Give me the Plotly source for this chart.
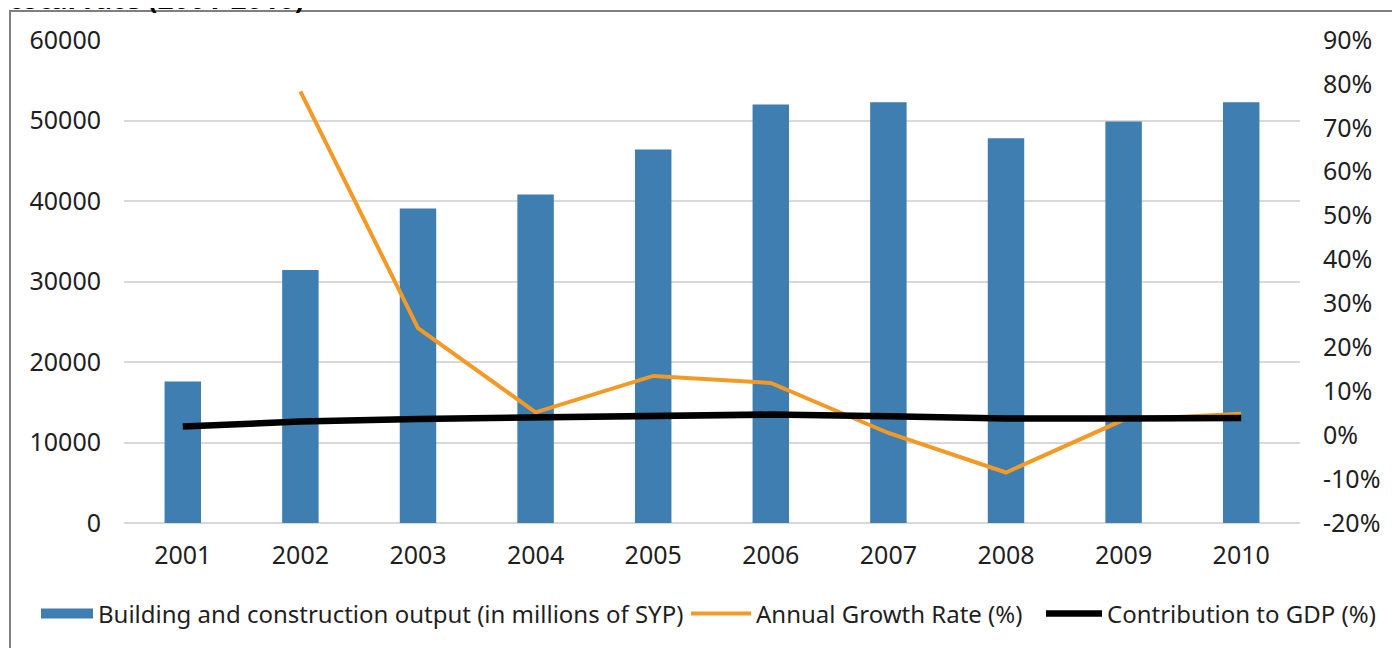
import plotly.graph_objects as go

years = ["2001", "2002", "2003", "2004", "2005", "2006", "2007", "2008", "2009", "2010"]
output_syp = [17570, 31430, 39080, 40820, 46400, 51980, 52270, 47800, 49880, 52270]
growth_years = ["2002", "2003", "2004", "2005", "2006", "2007", "2008", "2009", "2010"]
growth_rate = [0.783, 0.244, 0.052, 0.135, 0.119, 0.005, -0.085, 0.035, 0.049]
gdp_contrib = [0.020, 0.031, 0.037, 0.041, 0.044, 0.047, 0.043, 0.038, 0.038, 0.039]

left_ticks = [0, 10000, 20000, 30000, 40000, 50000, 60000]
right_ticks = [-0.2, -0.1, 0, 0.1, 0.2, 0.3, 0.4, 0.5, 0.6, 0.7, 0.8, 0.9]
right_labels = ["-20%", "-10%", "0%", "10%", "20%", "30%", "40%", "50%", "60%", "70%", "80%", "90%"]

FONT = "Noto Sans"
TXT = "#1F1F1F"
BLUE = "#3F7EB0"
ORANGE = "#F39A26"

fig = go.Figure()
fig.add_trace(go.Bar(
    x=years, y=output_syp, name="Building and construction output (in millions of SYP)",
    marker=dict(color=BLUE, line=dict(width=0)), showlegend=False, legendgroup="bar",
))
# legend-only entry so the bar key is drawn as a wide block like the original
fig.add_trace(go.Scatter(
    x=[None], y=[None], name="Building and construction output (in millions of SYP)",
    mode="lines", line=dict(color=BLUE, width=16), legendgroup="bar", hoverinfo="skip",
    legend="legend",
))
fig.add_trace(go.Scatter(
    x=growth_years, y=growth_rate, name="Annual Growth Rate (%)", yaxis="y2",
    mode="lines", line=dict(color=ORANGE, width=4), legend="legend2",
))
fig.add_trace(go.Scatter(
    x=years, y=gdp_contrib, name="Contribution to GDP (%)", yaxis="y2",
    mode="lines", line=dict(color="#000000", width=6.5), legend="legend3",
))


def leg(xpix, itemwidth):
    # xpix: left edge in page pixels (page is offset 8px by the body margin)
    return dict(orientation="h", xref="container", yref="container",
                x=(xpix - 8) / 1400, xanchor="left", y=1 - 606 / 648, yanchor="middle",
                font=dict(family=FONT, size=24, color=TXT), itemwidth=itemwidth,
                bgcolor="rgba(0,0,0,0)", borderwidth=0)


# page body adds an 8px offset; plot area in the page: x 124-1300, y 40-523
fig.update_layout(
    width=1400, height=648,
    margin=dict(l=116, r=108, t=32, b=133, autoexpand=False),
    paper_bgcolor="white", plot_bgcolor="white",
    font=dict(family=FONT, size=24, color=TXT),
    bargap=0.69,
    showlegend=True,
    legend=leg(36, 52),
    legend2=leg(686, 60),
    legend3=leg(1041, 56),
    xaxis=dict(type="category", showgrid=False, showline=False, ticks="", automargin=False,
               tickfont=dict(family=FONT, size=25, color=TXT), ticklabelstandoff=15),
    yaxis=dict(range=[0, 60000], tickvals=left_ticks, ticktext=[str(v) for v in left_ticks],
               showgrid=True, gridcolor="#D9D9D9", gridwidth=1.5, automargin=False,
               zeroline=True, zerolinecolor="#D9D9D9", zerolinewidth=1.5,
               showline=False, ticks="", ticklabelstandoff=22,
               tickfont=dict(family=FONT, size=25, color=TXT)),
    yaxis2=dict(range=[-0.2, 0.9], overlaying="y", side="right", automargin=False,
                tickvals=right_ticks, ticktext=right_labels,
                showgrid=False, zeroline=False, showline=False, ticks="",
                ticklabelstandoff=22,
                tickfont=dict(family=FONT, size=25, color=TXT)),
    shapes=[dict(type="rect", xref="paper", yref="paper",
                 x0=(10 - 124) / 1176, x1=(1430 - 124) / 1176,
                 y0=(523 - 700) / 483, y1=(523 - 11) / 483,
                 line=dict(color="#7F7F7F", width=2), fillcolor="rgba(0,0,0,0)", layer="below")],
    annotations=[dict(text="<b>total rate (2001-2010)</b>", xref="paper", yref="paper",
                      x=(7 - 124) / 1176, xanchor="left",
                      y=(523 - 19) / 483, yanchor="bottom", showarrow=False,
                      font=dict(family=FONT, size=28, color="#000000"))],
)

fig.write_html("out.html")
